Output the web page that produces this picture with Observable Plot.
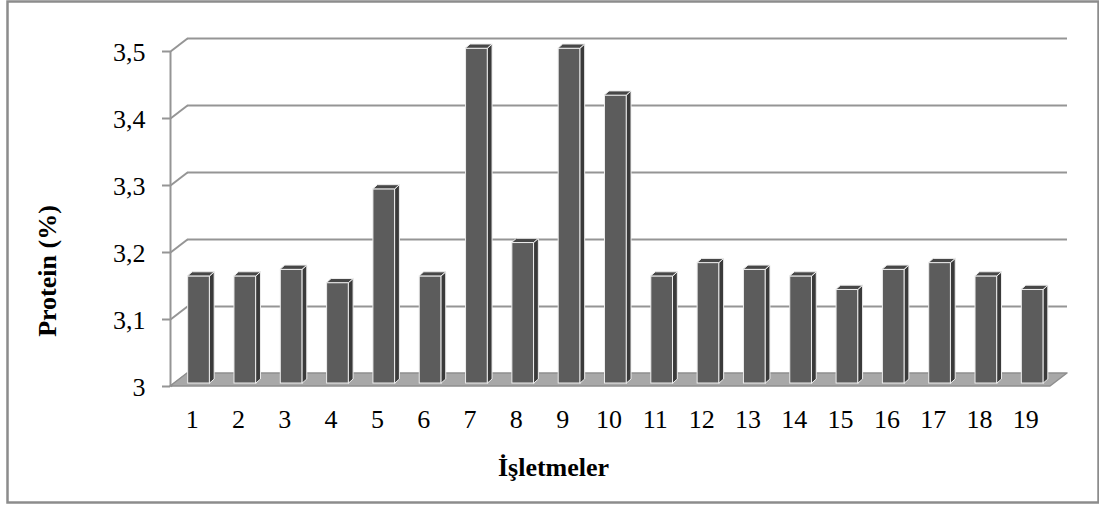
<!DOCTYPE html>
<html>
<head>
<meta charset="utf-8">
<script src="https://cdn.jsdelivr.net/npm/d3@7"></script>
<script src="https://cdn.jsdelivr.net/npm/@observablehq/plot@0.6"></script>
<style>
  html, body { margin: 0; padding: 0; background: #fff; }
</style>
</head>
<body>
<div id="chart"></div>
<script>
// ---- data ----
const categories = ["1","2","3","4","5","6","7","8","9","10","11","12","13","14","15","16","17","18","19"];
const protein = [3.16, 3.16, 3.17, 3.15, 3.29, 3.16, 3.50, 3.21, 3.50, 3.43, 3.16, 3.18, 3.17, 3.16, 3.14, 3.17, 3.18, 3.16, 3.14];
const yTicks = [3, 3.1, 3.2, 3.3, 3.4, 3.5];
const yTickLabels = ["3", "3,1", "3,2", "3,3", "3,4", "3,5"];
const xTitle = "İşletmeler";
const yTitle = "Protein (%)";

// ---- layout (pixels) ----
const W = 1099, H = 505;
const mL = 170, mR = 49, mT = 51, mB = 119;
const n = categories.length;
const ux = n / (W - mL - mR);          // data units per px (x)
const uy = 0.5 / (H - mT - mB);        // data units per px (y)
const wallDx = 17, wallDy = 13;        // 3D depth of the walls
const barHalf = 11, barDx = 4.5, barDy = 4; // bar half width and 3D depth
const barOffX = 5.5, barOffY = -3;

const bars = categories.map((c, i) => ({i, c, v: protein[i]}));
const ticks = yTicks.map((t, k) => ({t, label: yTickLabels[k]}));
const left = d => d.i + 0.5 - barHalf * ux;
const right = d => d.i + 0.5 + barHalf * ux;

const sideData = bars.flatMap(d => [
  {i: d.i, x: right(d), y1: 3, y2: d.v},
  {i: d.i, x: right(d) + barDx * ux, y1: 3 + barDy * uy, y2: d.v + barDy * uy}
]);
const topData = bars.flatMap(d => [
  {i: d.i, y: d.v, x1: left(d), x2: right(d)},
  {i: d.i, y: d.v + barDy * uy, x1: left(d) + barDx * ux, x2: right(d) + barDx * ux}
]);
const floorData = [
  {y: 3, x1: 0, x2: n},
  {y: 3 + wallDy * uy, x1: wallDx * ux, x2: n + wallDx * ux}
];

const font = "'Liberation Serif', 'Times New Roman', serif";
const gridColor = "#959595";
const outline = "#ededed";

const chart = Plot.plot({
  width: W,
  height: H,
  marginLeft: mL, marginRight: mR, marginTop: mT, marginBottom: mB,
  style: {background: "#fff", fontFamily: font, color: "#000"},
  x: {type: "linear", domain: [0, n], axis: null},
  y: {type: "linear", domain: [3, 3.5], axis: null},
  marks: [
    // outer border
    Plot.frame({insetLeft: -163, insetTop: -50, insetRight: -48, insetBottom: -116, stroke: "#8c8c8c", strokeWidth: 2.5}),
    // back wall gridlines
    Plot.ruleY(yTicks.filter(t => t > 3), {x1: wallDx * ux, x2: n + wallDx * ux, dy: -wallDy, stroke: gridColor, strokeWidth: 2}),
    // left wall diagonals
    Plot.link(yTicks, {x1: 0, y1: t => t, x2: wallDx * ux, y2: t => t + wallDy * uy, stroke: gridColor, strokeWidth: 2}),
    // y axis line and tick marks
    Plot.ruleX([0], {y1: 3, y2: 3.5, stroke: gridColor, strokeWidth: 2}),
    Plot.ruleY(yTicks, {x1: -8 * ux, x2: 0, stroke: gridColor, strokeWidth: 2}),
    // floor
    Plot.areaX(floorData, {y: "y", x1: "x1", x2: "x2", fill: "#a8a8a8", stroke: "#8e8e8e", strokeWidth: 1.5}),
    // y tick labels
    Plot.text(ticks, {x: 0, y: "t", text: "label", textAnchor: "end", dx: -25, dy: 1,
      fontSize: 26, fill: "#000", fontFamily: font}),
    // bars: front, side, top
    Plot.rect(bars, {x1: left, x2: right, y1: 3, y2: "v", dx: barOffX, dy: barOffY,
      fill: "#5c5c5c", stroke: outline, strokeWidth: 1}),
    Plot.areaY(sideData, {x: "x", y1: "y1", y2: "y2", z: "i", dx: barOffX, dy: barOffY,
      fill: "#3a3a3a", stroke: outline, strokeWidth: 1}),
    Plot.areaX(topData, {y: "y", x1: "x1", x2: "x2", z: "i", dx: barOffX, dy: barOffY,
      fill: "#474747", stroke: outline, strokeWidth: 1}),
    // x tick labels
    Plot.text(bars, {x: d => d.i + 0.5, y: 3, text: "c", dx: -1.5, dy: 33, fontSize: 26, fill: "#000", fontFamily: font}),
    // axis titles
    Plot.text([yTitle], {frameAnchor: "left", text: d => d, textAnchor: "middle", lineAnchor: "middle",
      dx: -123, dy: 52, rotate: -90, fontSize: 26, fontWeight: "bold", fill: "#000", fontFamily: font}),
    Plot.text([xTitle], {frameAnchor: "bottom", text: d => d, textAnchor: "middle", lineAnchor: "middle",
      dx: -57, dy: 81, fontSize: 26, fontWeight: "bold", fill: "#000", fontFamily: font})
  ]
});
document.getElementById("chart").appendChild(chart);
</script>
</body>
</html>
